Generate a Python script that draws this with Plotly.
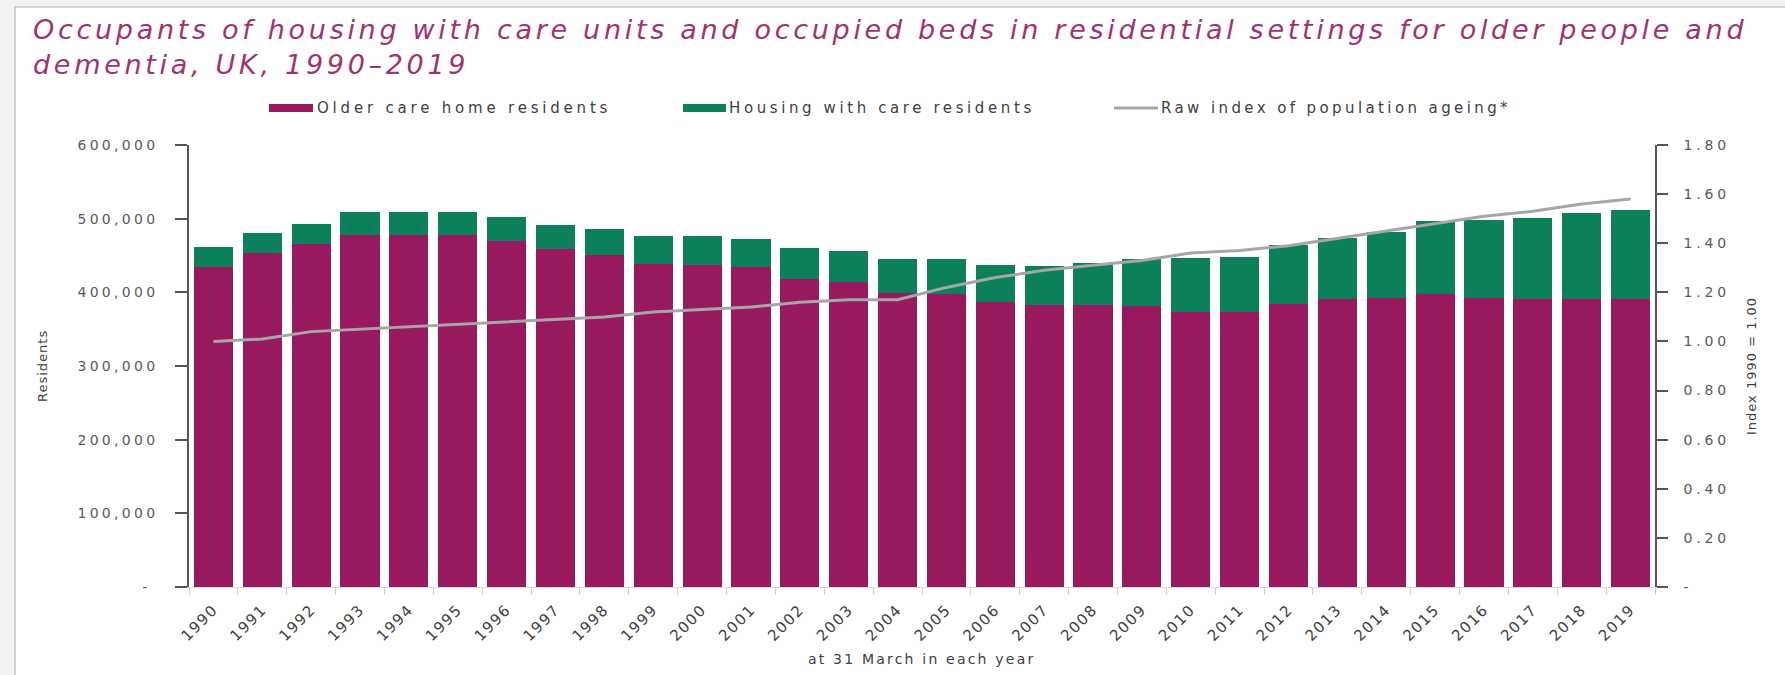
import plotly.graph_objects as go

years = [str(y) for y in range(1990, 2020)]

care_home_residents = [433800, 453400, 465800, 478500, 478500, 478500, 469400, 458900, 450700, 438400,
                       437000, 433800, 418700, 414200, 399600, 397300, 387300, 382800, 382800, 381900,
                       373800, 373800, 384200, 390600, 392800, 397300, 391900, 390600, 390600, 390600]

housing_with_care_residents = [28200, 27000, 27400, 30500, 30500, 30500, 32400, 32000, 35600, 37400,
                               38800, 38800, 41100, 42400, 45700, 48000, 49800, 53000, 56600, 63400,
                               72400, 74600, 80100, 82700, 89500, 99500, 106300, 109900, 116700, 121200]

ageing_index = [1.00, 1.01, 1.04, 1.05, 1.06, 1.07, 1.08, 1.09, 1.10, 1.12,
                1.13, 1.14, 1.16, 1.17, 1.17, 1.22, 1.26, 1.29, 1.31, 1.33,
                1.36, 1.37, 1.39, 1.42, 1.45, 1.48, 1.51, 1.53, 1.56, 1.58]

left_tickvals = [0, 100000, 200000, 300000, 400000, 500000, 600000]
left_labels = ["-\u00a0", "100,000", "200,000", "300,000", "400,000", "500,000", "600,000"]
right_tickvals = [0, 0.2, 0.4, 0.6, 0.8, 1.0, 1.2, 1.4, 1.6, 1.8]
right_labels = ["-", "0.20", "0.40", "0.60", "0.80", "1.00", "1.20", "1.40", "1.60", "1.80"]

title_line1 = "Occupants of housing with care units and occupied beds in residential settings for older people and"
title_line2 = "dementia, UK, 1990\u20132019"
legend_names = ["Older care home residents", "Housing with care residents", "Raw index of population ageing*"]

PURPLE = "#99195e"
GREEN = "#0b805a"
GREY_LINE = "#a6a6a6"
TEXT = "#404040"
TICK_TEXT = "#5a5a5a"
FONT = "DejaVu Sans"

W, H = 1785, 675
L, R, T, B = 189, 130, 145, 88
PW = W - L - R
PH = H - T - B


def px(x):
    return (x - L) / PW


def py(y):
    return (H - B - y) / PH


def spaced(text, spacing):
    return '<span style="letter-spacing:%.1fpx">%s</span>' % (spacing, text)


fig = go.Figure()
fig.add_trace(go.Bar(x=years, y=care_home_residents, name=legend_names[0],
                     marker=dict(color=PURPLE, line=dict(width=0)), yaxis="y"))
fig.add_trace(go.Bar(x=years, y=housing_with_care_residents, name=legend_names[1],
                     marker=dict(color=GREEN, line=dict(width=0)), yaxis="y"))
fig.add_trace(go.Scatter(x=years, y=ageing_index, name=legend_names[2],
                         mode="lines", line=dict(color=GREY_LINE, width=3), yaxis="y2"))

LEG_Y = 108
shapes = [
    dict(type="rect", xref="paper", yref="paper", x0=px(15), x1=px(W + 20), y0=py(H + 20), y1=py(7),
         fillcolor="white", line=dict(color="#c4c4c4", width=1.5), layer="below"),
    # legend swatches
    dict(type="rect", xref="paper", yref="paper", x0=px(269), x1=px(313), y0=py(LEG_Y + 4), y1=py(LEG_Y - 4),
         fillcolor=PURPLE, line=dict(width=0)),
    dict(type="rect", xref="paper", yref="paper", x0=px(683), x1=px(726), y0=py(LEG_Y + 4), y1=py(LEG_Y - 4),
         fillcolor=GREEN, line=dict(width=0)),
    dict(type="line", xref="paper", yref="paper", x0=px(1114), x1=px(1158), y0=py(LEG_Y), y1=py(LEG_Y),
         line=dict(color=GREY_LINE, width=3)),
]

title_font = dict(family="DejaVu Sans", size=27, color="#a0336f", style="italic")
legend_font = dict(family=FONT, size=15, color=TEXT)
annotations = [
    dict(text=spaced(title_line1, 3.7), xref="paper", yref="paper", x=px(31), y=py(29),
         xanchor="left", yanchor="middle", showarrow=False, font=title_font),
    dict(text=spaced(title_line2, 3.7), xref="paper", yref="paper", x=px(31), y=py(65),
         xanchor="left", yanchor="middle", showarrow=False, font=title_font),
    dict(text=spaced(legend_names[0], 3.8), xref="paper", yref="paper", x=px(315), y=py(LEG_Y),
         xanchor="left", yanchor="middle", showarrow=False, font=legend_font),
    dict(text=spaced(legend_names[1], 3.6), xref="paper", yref="paper", x=px(727), y=py(LEG_Y),
         xanchor="left", yanchor="middle", showarrow=False, font=legend_font),
    dict(text=spaced(legend_names[2], 3.4), xref="paper", yref="paper", x=px(1159), y=py(LEG_Y),
         xanchor="left", yanchor="middle", showarrow=False, font=legend_font),
    dict(text=spaced("Residents", 1.0), xref="paper", yref="paper", x=px(42), y=0.5, textangle=-90,
         xanchor="center", yanchor="middle", showarrow=False, font=dict(family=FONT, size=13, color=TEXT)),
    dict(text=spaced("Index 1990 = 1.00", 1.0), xref="paper", yref="paper", x=px(1751), y=0.5, textangle=-90,
         xanchor="center", yanchor="middle", showarrow=False, font=dict(family=FONT, size=13, color=TEXT)),
    dict(text=spaced("at 31 March in each year", 2.2), xref="paper", yref="paper", x=px(921), y=py(659),
         xanchor="center", yanchor="middle", showarrow=False, font=dict(family=FONT, size=14, color=TEXT)),
]

fig.update_layout(
    width=W, height=H,
    margin=dict(l=L, r=R, t=T, b=B, pad=0),
    paper_bgcolor="#f2f2f2",
    plot_bgcolor="white",
    barmode="stack",
    bargap=0.2,
    showlegend=False,
    shapes=shapes,
    annotations=annotations,
    xaxis=dict(type="category", tickangle=-45, tickson="boundaries", ticks="outside", ticklen=7,
               tickcolor="#d0d0d0", showline=True, linecolor="#d8d8d8", linewidth=1,
               tickvals=years, ticktext=[spaced(y, 1.5) for y in years],
               showgrid=False, tickfont=dict(family=FONT, size=15, color=TEXT), ticklabelstandoff=7),
    yaxis=dict(range=[0, 600000], tickvals=left_tickvals, ticktext=[spaced(t, 3.3) for t in left_labels],
               ticks="outside", ticklen=12, tickcolor="#555555", tickwidth=1.5,
               showline=True, linecolor="#555555", linewidth=1.5, showgrid=False, zeroline=False,
               tickfont=dict(family=FONT, size=14, color=TICK_TEXT), ticklabelstandoff=14),
    yaxis2=dict(range=[0, 1.8], overlaying="y", side="right", tickvals=right_tickvals,
                ticktext=[spaced(t, 3.8) for t in right_labels],
                ticks="outside", ticklen=11, tickcolor="#555555", tickwidth=1.5,
                showline=True, linecolor="#555555", linewidth=1.5, showgrid=False, zeroline=False,
                tickfont=dict(family=FONT, size=14, color=TICK_TEXT), ticklabelstandoff=13),
)

fig.write_html("out.html", config={"displayModeBar": False},
               post_script="document.body.style.margin='0';document.body.style.overflow='hidden';")
